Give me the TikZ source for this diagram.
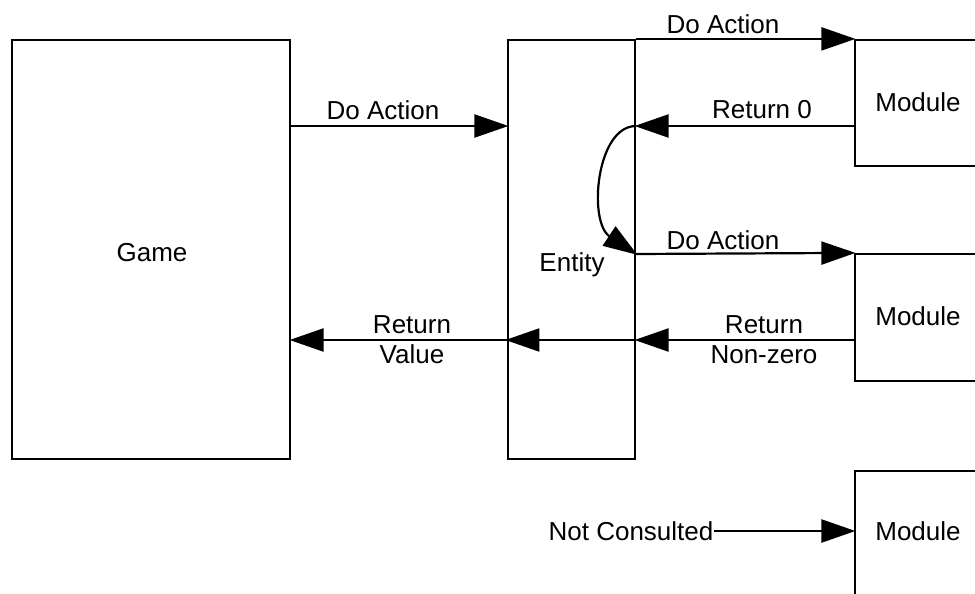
\documentclass[tikz,border=0pt]{standalone}
\usepackage{fontspec}
\setmainfont{Liberation Sans}
\usetikzlibrary{arrows.meta}
\begin{document}
\begin{tikzpicture}[x=1pt,y=-1pt,
  font=\fontsize{26}{30}\selectfont,
  box/.style={draw, line width=2.2pt, rectangle, inner sep=0pt},
  lbl/.style={inner sep=0pt, align=center},
  arr/.style={line width=2.2pt, shorten >=-1.5pt, -{Triangle[length=34pt,width=23pt]}}]
\clip (0,0) rectangle (975,594);

% main boxes
\node[box, minimum width=278pt, minimum height=419pt] (game) at (151,249.5) {};
\node[lbl] (gamelbl) at (152,253) {Game};
\node[box, minimum width=127pt, minimum height=419pt] (entity) at (571.5,249.5) {};
\node[lbl] (entitylbl) at (572,265) {Entity};

% module boxes, running off the right edge
\node[box, minimum width=160pt, minimum height=126pt] (mod1) at (935,103) {};
\node[box, minimum width=160pt, minimum height=127pt] (mod2) at (935,317.5) {};
\node[box, minimum width=160pt, minimum height=160pt] (mod3) at (935,551) {};
\node[lbl] (m1lbl) at (918,102) {Module};
\node[lbl] (m2lbl) at (918,316) {Module};
\node[lbl] (m3lbl) at (918,531) {Module};

% message levels
\coordinate (yA) at (0,126);
\coordinate (yB) at (0,254);
\coordinate (yC) at (0,340);

% Game -> Entity
\draw[arr] (game.east |- yA) -- (entity.west |- yA);
\node[lbl] (l1) at (383,110) {Do Action};

% Entity -> first module and back
\draw[arr] (entity.north east) -- (mod1.north west);
\node[lbl] (l2) at (723,24) {Do Action};
\draw[arr] (mod1.west |- yA) -- (entity.east |- yA);
\node[lbl] (l3) at (762,110) {Return 0};

% Entity moves on to the next module
\draw[arr] (entity.east |- yA) .. controls (596,126) and (588,222) .. (entity.east |- yB);
\draw[arr] (entity.east |- yB) -- (mod2.north west);
\node[lbl] (l4) at (723,240) {Do Action};

% non-zero result travels back to the game
\draw[arr] (mod2.west |- yC) -- (entity.east |- yC);
\node[lbl] (l5) at (764,340) {Return\\Non-zero};
\draw[arr] (entity.east |- yC) -- (entity.west |- yC);
\draw[arr] (entity.west |- yC) -- (game.east |- yC);
\node[lbl] (l6) at (412,340) {Return\\Value};

% last module is skipped
\node[lbl] (nc) at (631,531) {Not Consulted};
\draw[arr] (nc.east) -- (mod3.west |- nc.east);
\end{tikzpicture}
\end{document}
